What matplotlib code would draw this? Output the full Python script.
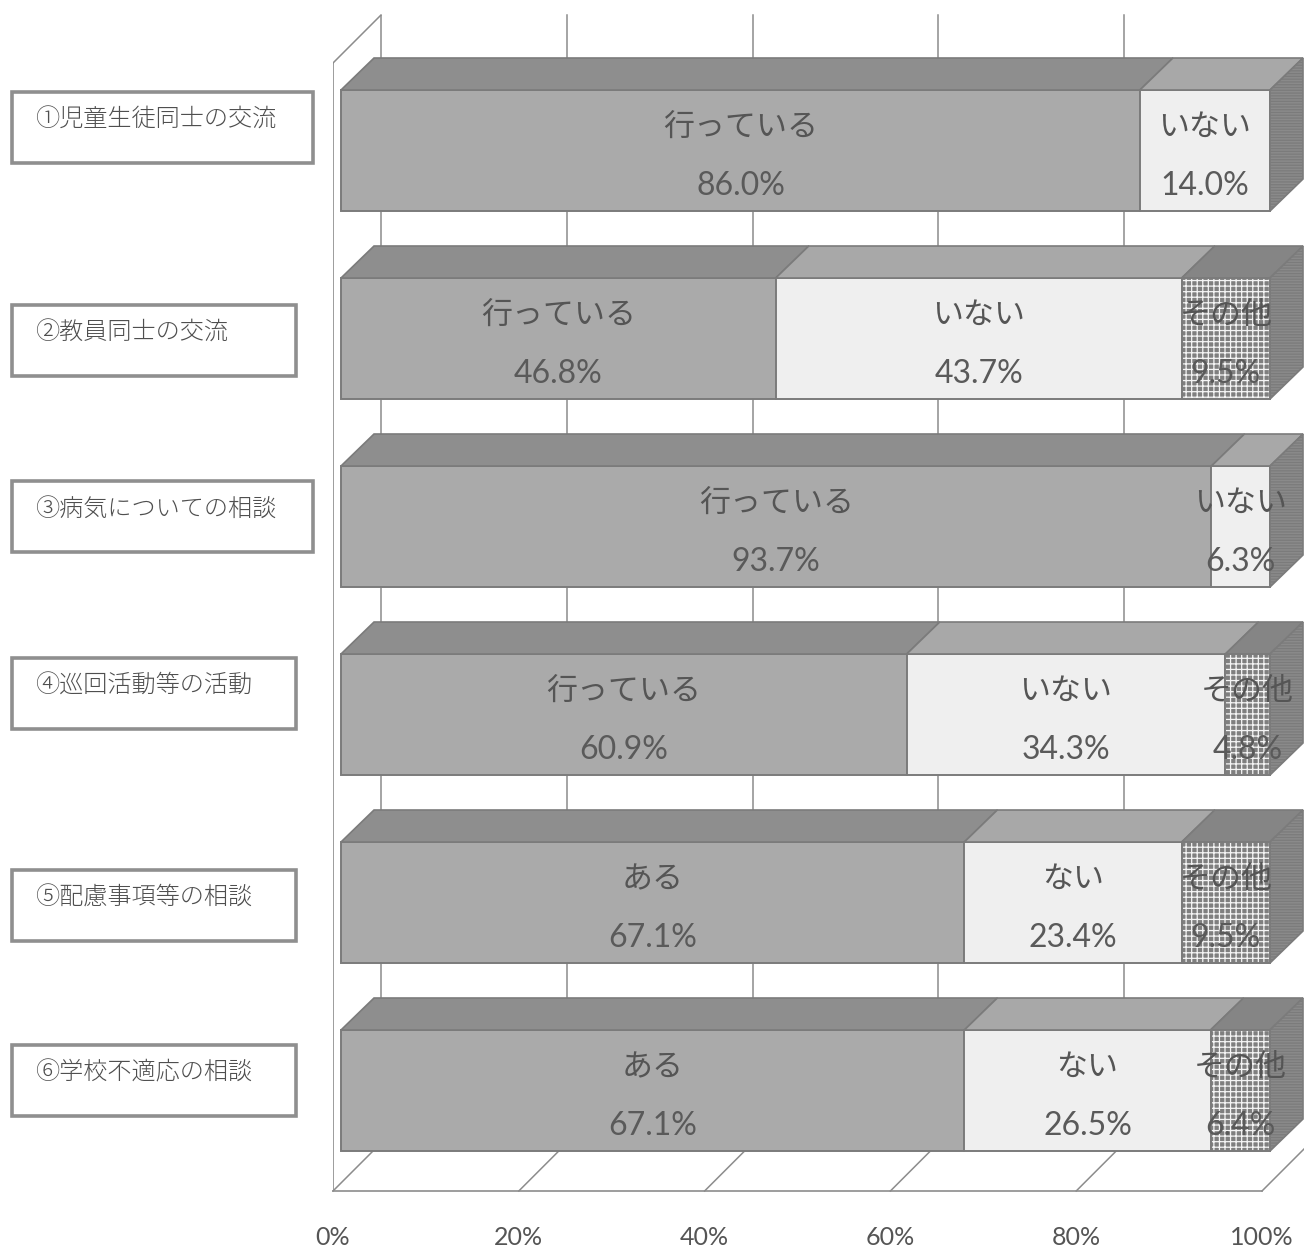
import matplotlib
matplotlib.use("Agg")
import matplotlib.pyplot as plt
from matplotlib.patches import Polygon, Rectangle

JP = ["Noto Sans CJK JP", "DejaVu Sans"]
NUM = ["Lato", "DejaVu Sans"]
plt.rcParams["hatch.linewidth"] = 0.9

categories = ["①児童生徒同士の交流", "②教員同士の交流", "③病気についての相談",
              "④巡回活動等の活動", "⑤配慮事項等の相談", "⑥学校不適応の相談"]
first_values = [86.0, 46.8, 93.7, 60.9, 67.1, 67.1]
second_values = [14.0, 43.7, 6.3, 34.3, 23.4, 26.5]
third_values = [0, 9.5, 0, 4.8, 9.5, 6.4]
first_names = ["行っている", "行っている", "行っている", "行っている", "ある", "ある"]
second_names = ["いない", "いない", "いない", "いない", "ない", "ない"]
third_name = "その他"
x_ticks = [0, 20, 40, 60, 80, 100]
x_tick_labels = ["0%", "20%", "40%", "60%", "80%", "100%"]

W, H = 1304, 1249
fig = plt.figure(figsize=(W / 100, H / 100), dpi=100, facecolor="white")

# The axes rectangle is the front edge of the chart floor.
LEFT, RIGHT, BOTTOM, TOP = 333, 1262, 1191, 15
ax = fig.add_axes([LEFT / W, 1 - BOTTOM / H, (RIGHT - LEFT) / W, (BOTTOM - TOP) / H])
px_per_unit = (RIGHT - LEFT) / 100
ROW_PITCH, ROW_ZERO = 188.0, 150.5
ax.set_xlim(0, 100)
ax.set_ylim((BOTTOM - ROW_ZERO) / ROW_PITCH, (TOP - ROW_ZERO) / ROW_PITCH)

# Depth offsets of the pseudo-3D projection, in data units.
BAR_SHIFT = 8 / px_per_unit
BAR_DX, BAR_DY = 33 / px_per_unit, 32 / ROW_PITCH
WALL_DX, WALL_DY = 48 / px_per_unit, 48 / ROW_PITCH
BAR_H = 121 / ROW_PITCH

LINE = "#8c8c8c"
EDGE = "#7b7b7b"
y_floor = ax.get_ylim()[0]
y_top = ax.get_ylim()[1]

# Back wall gridlines, floor diagonals and the left wall outline.
for t in x_ticks:
    ax.plot([t + WALL_DX] * 2, [y_top, y_floor - WALL_DY], color=LINE, lw=1.1,
            zorder=1, clip_on=False)
    ax.plot([t, t + WALL_DX], [y_floor, y_floor - WALL_DY], color=LINE, lw=1.1,
            zorder=1, clip_on=False)
ax.plot([0, 0], [y_floor, y_top + WALL_DY], color=LINE, lw=1.2, zorder=1)
ax.plot([0, WALL_DX], [y_top + WALL_DY, y_top], color=LINE, lw=1.1, zorder=1)

styles = [
    dict(front="#aaaaaa", top="#8e8e8e", hatch=None, hatch_color=None),
    dict(front="#efefef", top="#a8a8a8", hatch=None, hatch_color=None),
    dict(front="#7f7f7f", top="#858585", hatch="+++", hatch_color="#f4f4f4"),
]

for i in range(len(categories)):
    segs = [first_values[i], second_values[i], third_values[i]]
    names = [first_names[i], second_names[i], third_name]
    left = 0.0
    top_edge = i - BAR_H / 2
    for val, name, st in zip(segs, names, styles):
        if val == 0:
            continue
        x0 = left + BAR_SHIFT
        x1 = x0 + val
        ax.barh(i, val, left=x0, height=BAR_H, color=st["front"], edgecolor=EDGE,
                linewidth=1.4, zorder=3, clip_on=False)
        if st["hatch"]:
            ax.barh(i, val, left=x0, height=BAR_H, facecolor="none",
                    edgecolor=st["hatch_color"], hatch=st["hatch"], linewidth=0,
                    zorder=3.1, clip_on=False)
            ax.barh(i, val, left=x0, height=BAR_H, facecolor="none", edgecolor=EDGE,
                    linewidth=1.4, zorder=3.2, clip_on=False)
        ax.add_patch(Polygon([(x0, top_edge), (x1, top_edge),
                              (x1 + BAR_DX, top_edge - BAR_DY),
                              (x0 + BAR_DX, top_edge - BAR_DY)],
                             closed=True, facecolor=st["top"], edgecolor=EDGE,
                             linewidth=1.2, zorder=3, clip_on=False))
        cx = x0 + val / 2
        ax.text(cx, i - 23 / ROW_PITCH, name, family=JP, fontsize=22.3, color="#555555",
                ha="center", va="center", zorder=5, clip_on=False)
        ax.text(cx, i + 36 / ROW_PITCH, f"{val:.1f}%", family=NUM, fontsize=23,
                color="#5a5a5a", ha="center", va="center", zorder=5, clip_on=False)
        left += val
    # Right-hand end face of the stacked bar, finely ruled.
    xe = left + BAR_SHIFT
    ax.add_patch(Polygon([(xe, top_edge), (xe + BAR_DX, top_edge - BAR_DY),
                          (xe + BAR_DX, top_edge + BAR_H - BAR_DY), (xe, top_edge + BAR_H)],
                         closed=True, facecolor="#8a8a8a", edgecolor=EDGE, linewidth=1.2,
                         hatch="------", zorder=3, clip_on=False))

# Floor front edge and percentage tick labels.
for side in ("top", "right", "left"):
    ax.spines[side].set_visible(False)
ax.spines["bottom"].set_color(LINE)
ax.spines["bottom"].set_linewidth(1.2)
ax.set_yticks([])
ax.set_xticks(x_ticks, x_tick_labels, family=NUM, fontsize=18, color="#555555")
ax.tick_params(axis="x", length=0, pad=25)
ax.patch.set_alpha(0)

# Category captions in outlined boxes at the left of the figure.
box_right = [313, 296, 313, 296, 296, 296]
box_top = [92, 305, 481, 658, 870, 1045]
BOX_LEFT, BOX_H = 12, 71
for name, r, t in zip(categories, box_right, box_top):
    fig.add_artist(Rectangle((BOX_LEFT / W, 1 - (t + BOX_H) / H), (r - BOX_LEFT) / W, BOX_H / H,
                             transform=fig.transFigure, facecolor="white",
                             edgecolor="#8f8f8f", linewidth=2.6))
    fig.text(35 / W, 1 - (t + 28) / H, name, family=JP, fontsize=17.4, weight="light",
             color="#4f4f4f", ha="left", va="center")

fig.savefig("out.png", dpi=100)
